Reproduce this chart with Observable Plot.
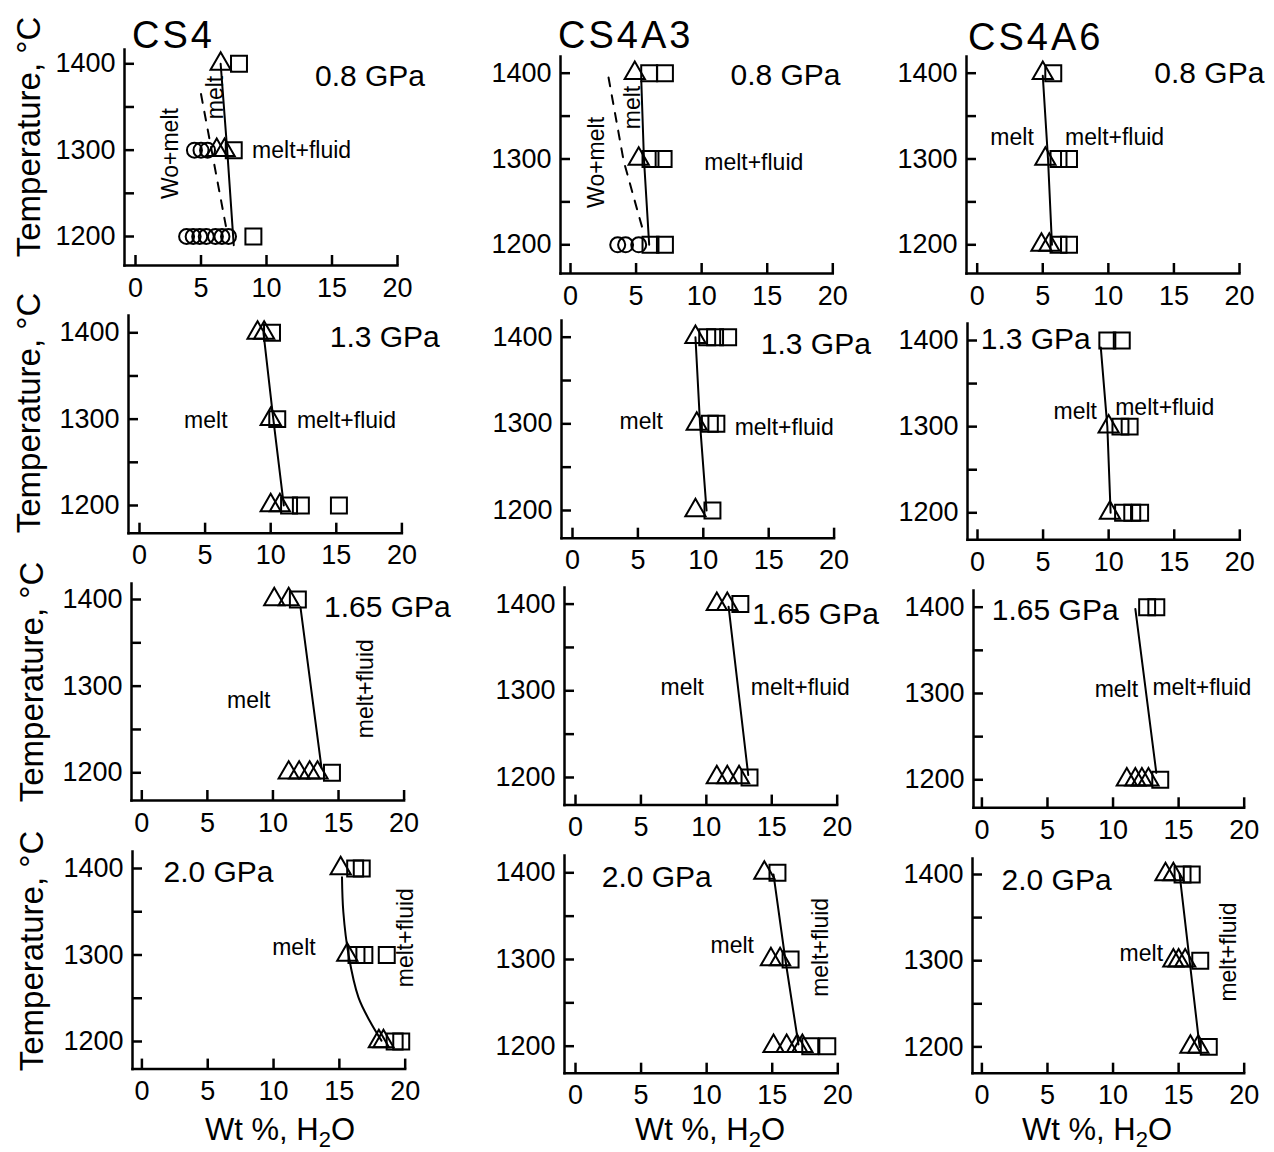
<!DOCTYPE html>
<html><head><meta charset="utf-8">
<script src="https://cdn.jsdelivr.net/npm/d3@7"></script>
<script src="https://cdn.jsdelivr.net/npm/@observablehq/plot@0.6"></script>
<style>
body{margin:0;background:#fff;}
#root{position:relative;width:1274px;height:1152px;overflow:hidden;background:#fff;font-family:"Liberation Sans",Arial,Helvetica,sans-serif;}
</style></head><body><div id="root"></div>
<script>
// ---- tick values / labels ----
const xTicks = [0, 5, 10, 15, 20];
const yTicks = [1200, 1250, 1300, 1350, 1400];
const yTickLabels = [1200, 1300, 1400];
const samples = ["CS4", "CS4A3", "CS4A6"];
const pressures = ["0.8 GPa", "1.3 GPa", "1.65 GPa", "2.0 GPa"];

// ---- data: [wt% H2O, T °C] ----
// CS4, 0.8 GPa
const cs4_08_tri = [[6.5,1400],[6.2,1300],[6.8,1300]];
const cs4_08_sq = [[7.9,1400],[7.5,1300],[9.0,1200]];
const cs4_08_cir = [[4.5,1300],[5.0,1300],[5.5,1300],[3.9,1200],[4.4,1200],[4.9,1200],[5.4,1200],[6.1,1200],[6.6,1200],[7.1,1200]];
const cs4_08_bound = [[6.5,1400],[7.0,1300],[7.5,1190]];
const cs4_08_dash = [[5.0,1365],[6.9,1212]];
// CS4A3, 0.8 GPa
const a3_08_tri = [[4.9,1400],[5.2,1300]];
const a3_08_sq = [[6.0,1400],[7.2,1400],[6.1,1300],[7.1,1300],[6.1,1200],[7.2,1200]];
const a3_08_cir = [[3.6,1200],[4.2,1200],[5.2,1200]];
const a3_08_bound = [[5.4,1390],[5.6,1300],[6.0,1200]];
const a3_08_dash = [[2.9,1395],[4.05,1298],[5.1,1240],[5.6,1213]];
// CS4A6, 0.8 GPa
const a6_08_tri = [[5.0,1400],[5.2,1300],[4.9,1200],[5.5,1200]];
const a6_08_sq = [[5.8,1400],[6.2,1300],[7.0,1300],[6.2,1200],[7.0,1200]];
const a6_08_bound = [[5.0,1397],[5.4,1300],[5.7,1200]];
// CS4, 1.3 GPa
const cs4_13_tri = [[9.0,1400],[9.5,1400],[10.0,1300],[10.0,1200],[10.7,1200]];
const cs4_13_sq = [[10.1,1400],[10.5,1300],[11.4,1200],[12.3,1200],[15.2,1200]];
const cs4_13_bound = [[9.45,1400],[10.2,1300],[11.0,1200]];
// CS4A3, 1.3 GPa
const a3_13_tri = [[9.4,1400],[9.5,1300],[9.4,1200]];
const a3_13_sq = [[10.3,1400],[10.9,1400],[11.9,1400],[10.5,1300],[11.0,1300],[10.7,1200]];
const a3_13_bound = [[9.4,1400],[9.75,1300],[10.25,1200]];
// CS4A6, 1.3 GPa
const a6_13_tri = [[10.0,1300],[10.1,1200]];
const a6_13_sq = [[9.9,1400],[11.0,1400],[10.9,1300],[11.6,1300],[11.1,1200],[11.8,1200],[12.4,1200]];
const a6_13_bound = [[9.4,1392],[9.9,1300],[10.15,1200]];
// CS4, 1.65 GPa
const cs4_165_tri = [[10.1,1400],[11.2,1400],[11.2,1200],[12.0,1200],[12.8,1200],[13.4,1200]];
const cs4_165_sq = [[11.9,1400],[14.5,1200]];
const cs4_165_bound = [[12.1,1391],[13.7,1206]];
// CS4A3, 1.65 GPa
const a3_165_tri = [[10.8,1400],[11.6,1400],[10.8,1200],[11.6,1200],[12.5,1200]];
const a3_165_sq = [[12.6,1400],[13.3,1200]];
const a3_165_bound = [[11.7,1397],[13.2,1203]];
// CS4A6, 1.65 GPa
const a6_165_tri = [[11.05,1200],[11.7,1200],[12.2,1200],[12.7,1200]];
const a6_165_sq = [[12.6,1400],[13.3,1400],[13.6,1200]];
const a6_165_bound = [[11.7,1398],[13.3,1208]];
// CS4, 2.0 GPa
const cs4_20_tri = [[15.1,1400],[15.6,1300],[18.0,1200],[18.35,1200]];
const cs4_20_sq = [[16.2,1400],[16.7,1400],[16.3,1300],[16.9,1300],[18.6,1300],[19.2,1200],[19.7,1200]];
const cs4_20_bound = [[15.2,1390],[15.3,1350],[15.7,1300],[16.45,1251],[17.3,1224],[18.2,1201]];
// CS4A3, 2.0 GPa
const a3_20_tri = [[14.4,1400],[14.9,1300],[15.6,1300],[15.1,1200],[16.1,1200],[16.9,1200],[17.3,1200]];
const a3_20_sq = [[15.4,1400],[16.4,1300],[17.9,1200],[19.2,1200]];
const a3_20_bound = [[15.1,1398],[16.0,1300],[17.0,1202]];
// CS4A6, 2.0 GPa
const a6_20_tri = [[14.0,1400],[14.6,1400],[14.6,1300],[15.0,1300],[15.5,1300],[15.9,1200],[16.5,1200]];
const a6_20_sq = [[15.3,1400],[16.0,1400],[16.65,1300],[17.3,1200]];
const a6_20_bound = [[15.07,1401],[16.6,1200]];

// ---- annotations (data coordinates) ----
const ann = {
  cs4_08: {gpa:[13.7,1385], h:[["melt+fluid",8.9,1300]], v:[["Wo+melt",2.67,1296],["melt",6.1,1361]]},
  a3_08: {gpa:[12.2,1397], h:[["melt+fluid",10.2,1296]], v:[["Wo+melt",2.0,1296],["melt",4.7,1360]]},
  a6_08: {gpa:[13.5,1400], h:[["melt",1.0,1325],["melt+fluid",6.7,1325]], v:[]},
  cs4_13: {gpa:[14.5,1395], h:[["melt",3.4,1298],["melt+fluid",12.0,1298]], v:[]},
  a3_13: {gpa:[14.4,1392], h:[["melt",3.6,1302],["melt+fluid",12.4,1295.5]], v:[]},
  a6_13: {gpa:[0.25,1401], h:[["melt",5.8,1317],["melt+fluid",10.5,1322]], v:[]},
  cs4_165: {gpa:[13.9,1391], h:[["melt",6.5,1283]], v:[["melt+fluid",17.1,1297]]},
  a3_165: {gpa:[13.5,1388], h:[["melt",6.5,1304],["melt+fluid",13.4,1304]], v:[]},
  a6_165: {gpa:[0.76,1396], h:[["melt",8.6,1305],["melt+fluid",13.0,1307]], v:[]},
  cs4_20: {gpa:[1.64,1395], h:[["melt",9.9,1309]], v:[["melt+fluid",20.0,1320]]},
  a3_20: {gpa:[2.0,1395], h:[["melt",10.3,1316]], v:[["melt+fluid",18.7,1314]]},
  a6_20: {gpa:[1.5,1393], h:[["melt",10.5,1308]], v:[["melt+fluid",18.8,1310]]}
};

// ---- panel layout (page pixels) ----
const frames = {
 p11:{axisX:124,x0:135,x20:397,top:49,bottom:265,y1400:63.3,y1200:236},
 p12:{axisX:560,x0:570,x20:832.3,top:56,bottom:273,y1400:72.7,y1200:244.3},
 p13:{axisX:966,x0:976.7,x20:1239,top:56,bottom:273,y1400:72.7,y1200:244.3},
 p21:{axisX:128.3,x0:139.3,x20:401.7,top:315,bottom:532.7,y1400:332.3,y1200:505},
 p22:{axisX:560.7,x0:571.7,x20:833.3,top:320,bottom:537.7,y1400:336.7,y1200:510},
 p23:{axisX:966.7,x0:976.7,x20:1239,top:323,bottom:539.3,y1400:340,y1200:512.3},
 p31:{axisX:130.7,x0:141,x20:403.3,top:583,bottom:800,y1400:599,y1200:772.3},
 p32:{axisX:564,x0:575,x20:836.7,top:586.7,bottom:804.3,y1400:603.3,y1200:776.7},
 p33:{axisX:973.3,x0:981.7,x20:1244,top:590,bottom:807.3,y1400:606.7,y1200:779.3},
 p41:{axisX:132.3,x0:141.7,x20:405,top:850.7,bottom:1068.3,y1400:867.7,y1200:1040.7},
 p42:{axisX:564,x0:575,x20:837.3,top:855,bottom:1072.7,y1400:872.3,y1200:1045.7},
 p43:{axisX:972.3,x0:981.7,x20:1244,top:858.3,bottom:1073,y1400:874.3,y1200:1046.7}
};

const panels = [
 {f:"p11",p:0,tri:cs4_08_tri,sq:cs4_08_sq,cir:cs4_08_cir,bound:cs4_08_bound,dash:cs4_08_dash,ann:ann.cs4_08},
 {f:"p12",p:0,tri:a3_08_tri,sq:a3_08_sq,cir:a3_08_cir,bound:a3_08_bound,dash:a3_08_dash,ann:ann.a3_08},
 {f:"p13",p:0,tri:a6_08_tri,sq:a6_08_sq,bound:a6_08_bound,ann:ann.a6_08},
 {f:"p21",p:1,tri:cs4_13_tri,sq:cs4_13_sq,bound:cs4_13_bound,ann:ann.cs4_13},
 {f:"p22",p:1,tri:a3_13_tri,sq:a3_13_sq,bound:a3_13_bound,ann:ann.a3_13},
 {f:"p23",p:1,tri:a6_13_tri,sq:a6_13_sq,bound:a6_13_bound,ann:ann.a6_13},
 {f:"p31",p:2,tri:cs4_165_tri,sq:cs4_165_sq,bound:cs4_165_bound,ann:ann.cs4_165},
 {f:"p32",p:2,tri:a3_165_tri,sq:a3_165_sq,bound:a3_165_bound,ann:ann.a3_165},
 {f:"p33",p:2,tri:a6_165_tri,sq:a6_165_sq,bound:a6_165_bound,ann:ann.a6_165},
 {f:"p41",p:3,tri:cs4_20_tri,sq:cs4_20_sq,bound:cs4_20_bound,ann:ann.cs4_20,curve:"catmull-rom"},
 {f:"p42",p:3,tri:a3_20_tri,sq:a3_20_sq,bound:a3_20_bound,ann:ann.a3_20},
 {f:"p43",p:3,tri:a6_20_tri,sq:a6_20_sq,bound:a6_20_bound,ann:ann.a6_20}
];

const root = document.getElementById("root");
const FONT = '"Liberation Sans", Arial, Helvetica, sans-serif';
const pts = a => (a || []).map(([x, y]) => ({x, y}));

for (const pn of panels) {
  const f = frames[pn.f];
  const pxX = (f.x20 - f.x0) / 20;
  const pxY = (f.y1200 - f.y1400) / 200;
  const xmin = -(f.x0 - f.axisX) / pxX;
  const ymax = 1400 + (f.y1400 - f.top) / pxY;
  const ymin = 1200 - (f.bottom - f.y1200) / pxY;
  const mL = 95, mR = 95, mT = 30, mB = 50;
  const w = mL + (f.x20 - f.axisX) + mR;
  const h = mT + (f.bottom - f.top) + mB;
  const tickX = 10 / pxX, tickY = 10 / pxY;
  const a = pn.ann;
  const sym = {stroke: "black", strokeWidth: 2, fill: "none"};
  const marks = [
    Plot.frame({anchor: "left", strokeWidth: 2.5}),
    Plot.frame({anchor: "bottom", strokeWidth: 2.5}),
    Plot.ruleX(xTicks, {x: d => d, y1: ymin, y2: ymin + tickY, strokeWidth: 2.5}),
    Plot.ruleY(yTicks, {y: d => d, x1: xmin, x2: xmin + tickX, strokeWidth: 2.5}),
    Plot.axisX({ticks: xTicks, tickSize: 0, tickPadding: 12, fontSize: 27, label: null, tickFormat: d => String(d)}),
    Plot.axisY({ticks: yTickLabels, tickSize: 0, tickPadding: 9, fontSize: 27, label: null, tickFormat: d => String(d)}),
    Plot.line(pts(pn.bound), {x: "x", y: "y", strokeWidth: 2, curve: pn.curve || "linear"})
  ];
  if (pn.dash) marks.push(Plot.line(pts(pn.dash), {x: "x", y: "y", strokeWidth: 2, strokeDasharray: "9,9"}));
  if (pn.cir) marks.push(Plot.dot(pts(pn.cir), {x: "x", y: "y", symbol: "circle", r: 7.5, ...sym}));
  marks.push(Plot.dot(pts(pn.tri), {x: "x", y: "y", symbol: "triangle", r: 7.5, ...sym}));
  marks.push(Plot.dot(pts(pn.sq), {x: "x", y: "y", symbol: "square", r: 9, ...sym}));
  marks.push(Plot.text([{x: a.gpa[0], y: a.gpa[1], t: pressures[pn.p]}], {x: "x", y: "y", text: "t", textAnchor: "start", fontSize: 30}));
  marks.push(Plot.text(a.h.map(([t, x, y]) => ({t, x, y})), {x: "x", y: "y", text: "t", textAnchor: "start", fontSize: 23}));
  if (a.v.length) marks.push(Plot.text(a.v.map(([t, x, y]) => ({t, x, y})), {x: "x", y: "y", text: "t", rotate: -90, fontSize: 23}));

  const svg = Plot.plot({
    width: w, height: h,
    marginLeft: mL, marginRight: mR, marginTop: mT, marginBottom: mB,
    x: {domain: [xmin, 20]},
    y: {domain: [ymin, ymax]},
    style: {background: "none", overflow: "visible", fontFamily: FONT, maxWidth: "none", color: "black"},
    marks
  });
  svg.style.position = "absolute";
  svg.style.left = (f.axisX - mL) + "px";
  svg.style.top = (f.top - mT) + "px";
  root.appendChild(svg);
}

// ---- overlay titles ----
const ov = d3.select(root).append("svg")
  .attr("width", 1274).attr("height", 1152)
  .style("position", "absolute").style("left", "0px").style("top", "0px")
  .style("pointer-events", "none").style("font-family", FONT);

const titlePos = [[132, 48], [558, 48], [968, 50]];
samples.forEach((s, i) => {
  ov.append("text").attr("x", titlePos[i][0]).attr("y", titlePos[i][1])
    .attr("font-size", 38).attr("letter-spacing", 3).text(s);
});

const tempPos = [[40, 137], [40, 413], [43, 682], [43, 951]];
tempPos.forEach(([x, y]) => {
  ov.append("text").attr("x", x).attr("y", y).attr("text-anchor", "middle")
    .attr("transform", `rotate(-90 ${x} ${y})`).attr("font-size", 33)
    .text("Temperature, °C");
});

const wtPos = [[205, 1140], [635, 1140], [1022, 1140]];
wtPos.forEach(([x, y]) => {
  const t = ov.append("text").attr("x", x).attr("y", y).attr("font-size", 31);
  t.append("tspan").text("Wt %, H");
  t.append("tspan").attr("dy", 7).attr("font-size", 22).text("2");
  t.append("tspan").attr("dy", -7).text("O");
});
</script></body></html>
